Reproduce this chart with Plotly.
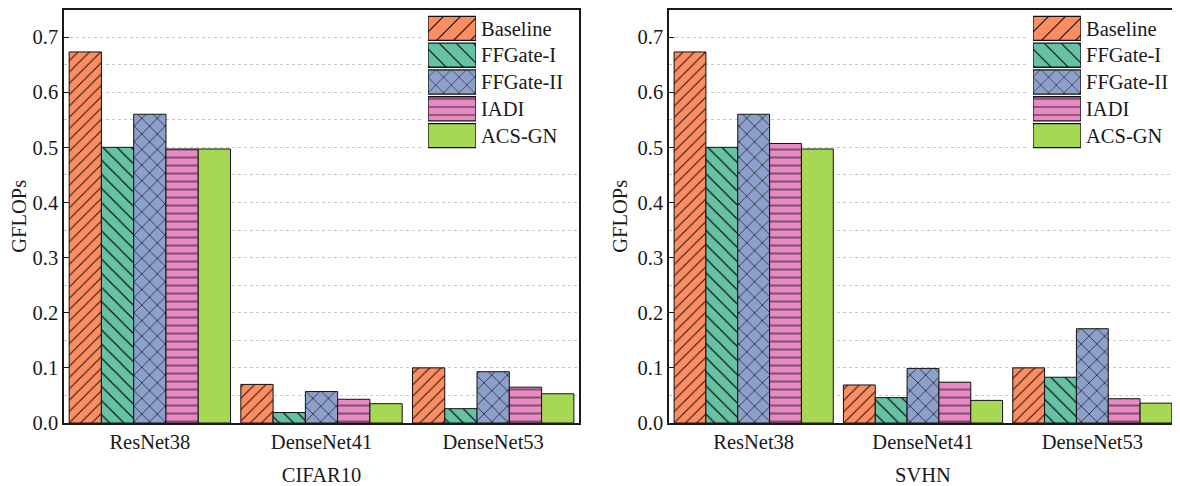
import plotly.graph_objects as go

# ---- data ----
models = ["ResNet38", "DenseNet41", "DenseNet53"]
methods = ["Baseline", "FFGate-I", "FFGate-II", "IADI", "ACS-GN"]

cifar10 = {
    "Baseline":  [0.673, 0.070, 0.100],
    "FFGate-I":  [0.500, 0.019, 0.026],
    "FFGate-II": [0.560, 0.057, 0.093],
    "IADI":      [0.497, 0.043, 0.065],
    "ACS-GN":    [0.497, 0.035, 0.053],
}
svhn = {
    "Baseline":  [0.673, 0.069, 0.100],
    "FFGate-I":  [0.500, 0.046, 0.083],
    "FFGate-II": [0.560, 0.099, 0.171],
    "IADI":      [0.507, 0.074, 0.044],
    "ACS-GN":    [0.497, 0.041, 0.036],
}
y_ticks = [0.0, 0.1, 0.2, 0.3, 0.4, 0.5, 0.6, 0.7]

# ---- styles ----
colors = {"Baseline": "#FC8D62", "FFGate-I": "#66C2A5", "FFGate-II": "#8DA0CB",
          "IADI": "#E78AC3", "ACS-GN": "#A6D854"}
shapes_ = {"Baseline": "/", "FFGate-I": "\\", "FFGate-II": "x", "IADI": "-", "ACS-GN": ""}
bar_psize = {"Baseline": 8, "FFGate-I": 10, "FFGate-II": 11, "IADI": 8, "ACS-GN": 8}
leg_psize = {"Baseline": 12, "FFGate-I": 12, "FFGate-II": 11, "IADI": 8, "ACS-GN": 8}
FONT = "Liberation Serif, Times New Roman, Times, serif"
FS = 20.5
INK = "#111111"

# page body has an 8px margin: the figure is offset by 8px
OFF = 8
W, H = 1180 - OFF, 486 - OFF

def px_x(p):
    return (p - OFF) / W

def px_y(p):
    return 1 - (p - OFF) / H

fig = go.Figure()

for ax_idx, data in [("", cifar10), ("2", svhn)]:
    for m in methods:
        fig.add_trace(go.Bar(
            x=models, y=data[m], name=m, showlegend=False,
            xaxis="x" + ax_idx, yaxis="y" + ax_idx,
            marker=dict(color=colors[m],
                        line=dict(color=INK, width=1),
                        pattern=dict(shape=shapes_[m], fgcolor=INK, fgopacity=1,
                                     bgcolor=colors[m], fillmode="replace",
                                     size=bar_psize[m], solidity=0.12)),
        ))

# white legend backgrounds (subplots 3,4) drawn above the main grids
for bx, by in [("x3", "y3"), ("x4", "y4")]:
    fig.add_trace(go.Bar(x=[0], y=[1], width=1, xaxis=bx, yaxis=by, showlegend=False,
                         hoverinfo="skip", marker=dict(color="white", line=dict(width=0))))

# custom legends (large swatches) on small auxiliary axes (subplots 5,6)
for lx, ly in [("x5", "y5"), ("x6", "y6")]:
    for m in methods:
        fig.add_trace(go.Bar(
            y=[m], x=[1], orientation="h", name=m,
            xaxis=lx, yaxis=ly, showlegend=False, width=0.9, hoverinfo="skip",
            marker=dict(color=colors[m],
                        line=dict(color=INK, width=1.3),
                        pattern=dict(shape=shapes_[m], fgcolor=INK, fgopacity=1,
                                     bgcolor=colors[m], fillmode="replace",
                                     size=leg_psize[m], solidity=0.1)),
        ))

top, bottom = 9.5, 423
panels = {"": (64, 579), "2": (669, 1177)}

axis_common = dict(showline=True, mirror=True, linecolor="#1a1a1a", linewidth=1.5,
                   tickfont=dict(family=FONT, size=FS, color="#1a1a1a"))
layout = dict(
    width=W, height=H, margin=dict(l=0, r=0, t=0, b=0, autoexpand=False),
    plot_bgcolor="white", paper_bgcolor="white",
    barmode="group", bargap=0.06, bargroupgap=0,
    font=dict(family=FONT, color="#1a1a1a"),
)
titles = {"": "CIFAR10", "2": "SVHN"}
for k, (x0, x1) in panels.items():
    layout["xaxis" + k] = dict(
        axis_common, domain=[px_x(x0), px_x(x1)], anchor="y" + k,
        ticks="", showgrid=False, zeroline=False, automargin=False,
        title=dict(text=titles[k], font=dict(family=FONT, size=FS), standoff=16),
    )
    layout["yaxis" + k] = dict(
        axis_common, domain=[px_y(bottom), px_y(top)], anchor="x" + k,
        range=[0, 0.75], tickvals=y_ticks, tickformat=".1f", automargin=False,
        ticks="inside", ticklen=5, tickwidth=1.2, tickcolor="#1a1a1a",
        ticklabelstandoff=0,
        showgrid=True, gridcolor="#c8c8c8", griddash="dot", gridwidth=1,
        minor=dict(dtick=0.05, tick0=0, showgrid=True, gridcolor="#c8c8c8",
                   griddash="dot", gridwidth=1, ticks=""),
        zeroline=False,
        title=dict(text="GFLOPs", font=dict(family=FONT, size=FS), standoff=4),
    )

# legend background axes
for (xa, ya), (bx0, bx1) in [(("xaxis3", "yaxis3"), (424, 577)), (("xaxis4", "yaxis4"), (1029, 1175))]:
    layout[xa] = dict(domain=[px_x(bx0), px_x(bx1)], range=[-0.5, 0.5], visible=False,
                      anchor=ya.replace("axis", ""), fixedrange=True)
    layout[ya] = dict(domain=[px_y(152), px_y(11)], range=[0, 1], visible=False,
                      anchor=xa.replace("axis", ""), fixedrange=True)

# legend axes
leg_rows_top, leg_rows_bottom = 15, 149
for (xa, ya), (sx0, sx1) in [(("xaxis5", "yaxis5"), (428, 476)), (("xaxis6", "yaxis6"), (1033, 1081))]:
    layout[xa] = dict(domain=[px_x(sx0), px_x(sx1)], range=[0, 1], visible=False,
                      anchor=ya.replace("axis", ""), fixedrange=True)
    layout[ya] = dict(domain=[px_y(leg_rows_bottom), px_y(leg_rows_top)],
                      anchor=xa.replace("axis", ""), side="right",
                      categoryorder="array", categoryarray=methods[::-1],
                      showgrid=False, zeroline=False, showline=False, ticks="",
                      ticklabelstandoff=4, automargin=False,
                      tickfont=dict(family=FONT, size=FS, color="#1a1a1a"), fixedrange=True)

fig.update_layout(**layout)
fig.write_html("out.html")
